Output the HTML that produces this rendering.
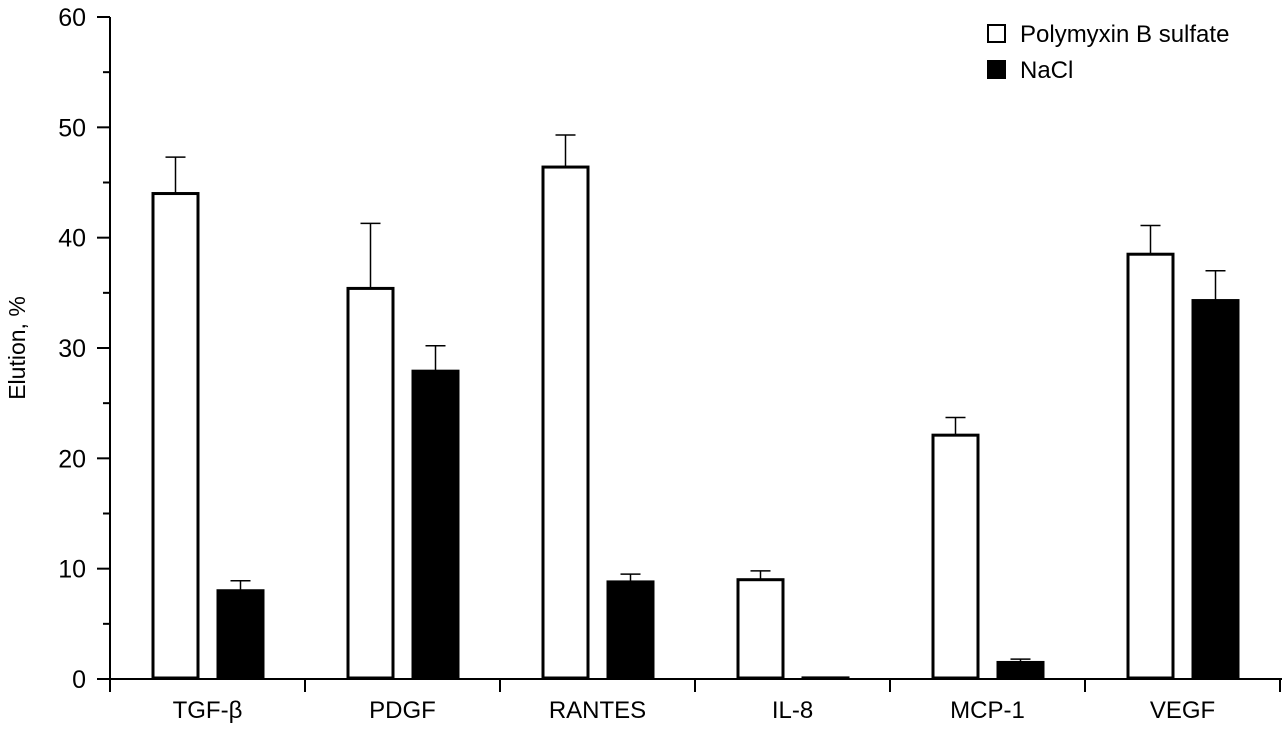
<!DOCTYPE html>
<html><head><meta charset="utf-8"><style>
body{margin:0;background:#fff;}
svg text{font-family:"Liberation Sans",sans-serif;fill:#000;}
</style></head><body>
<svg id="chart" width="1286" height="734" xmlns="http://www.w3.org/2000/svg"></svg>
<script>
const categories=["TGF-β","PDGF","RANTES","IL-8","MCP-1","VEGF"];
const polymyxin=[44,35.4,46.4,9,22.1,38.5];
const polymyxinErr=[3.3,5.9,2.9,0.8,1.6,2.6];
const nacl=[8,27.9,8.8,0.1,1.5,34.3];
const naclErr=[0.9,2.3,0.7,0,0.3,2.7];
const yTicks=[0,10,20,30,40,50,60];
const NS="http://www.w3.org/2000/svg";
const svg=document.getElementById('chart');
const x0=110,gw=195,y0=679,yTop=17;
const y=v=>y0-(v/60)*(y0-yTop);
function mk(t,a,p){const e=document.createElementNS(NS,t);for(const k in a)e.setAttribute(k,a[k]);(p||svg).appendChild(e);return e;}
const axes=mk('g',{});


mk('line',{x1:x0,y1:yTop,x2:x0,y2:y0,stroke:'#000','stroke-width':2},axes);
mk('line',{x1:97,y1:y0,x2:x0+gw*6+2,y2:y0,stroke:'#000','stroke-width':2},axes);
yTicks.forEach(v=>{
 mk('line',{x1:97,y1:y(v),x2:x0,y2:y(v),stroke:'#000','stroke-width':2},axes);
 if(v<60)mk('line',{x1:103,y1:y(v+5),x2:x0,y2:y(v+5),stroke:'#000','stroke-width':2},axes);
 const t=mk('text',{x:86,y:y(v)+9,'text-anchor':'end','font-size':25},axes);t.textContent=v;
 
 
});
for(let i=0;i<=6;i++)mk('line',{x1:x0+gw*i,y1:y0,x2:x0+gw*i,y2:692,stroke:'#000','stroke-width':2},axes);
const yt=mk('text',{transform:'translate(25,348) rotate(-90)','text-anchor':'middle','font-size':23});
yt.textContent='Elution, %';


function bar(xl,v,err,fill,name){
 const g=mk('g',{});
 
 
 const cx=xl+22.5;
 if(err>0){
  mk('line',{x1:cx,y1:y(v-err),x2:cx,y2:y(v+err),stroke:'#000','stroke-width':1.5},g);
  mk('line',{x1:cx-10,y1:y(v+err),x2:cx+10,y2:y(v+err),stroke:'#000','stroke-width':1.5},g);
  mk('line',{x1:cx-10,y1:y(v-err),x2:cx+10,y2:y(v-err),stroke:'#000','stroke-width':1.5},g);
 }
 mk('rect',{x:xl,y:y(v),width:45,height:Math.max(y0-1-y(v),0.5),fill:fill,stroke:'#000','stroke-width':3},g);
}
categories.forEach((c,i)=>{
 const gx=x0+gw*i;
 bar(gx+43,polymyxin[i],polymyxinErr[i],'#fff','bar-polymyxin-'+i);
 bar(gx+108,nacl[i],naclErr[i],'#000','bar-nacl-'+i);
 const t=mk('text',{x:gx+gw/2,y:718,'text-anchor':'middle','font-size':24});t.textContent=c;
 
 
});
const lg=mk('g',{});


mk('rect',{x:988,y:25,width:17,height:17,fill:'#fff',stroke:'#000','stroke-width':2},lg);
const l1=mk('text',{x:1020,y:42,'font-size':24},lg);l1.textContent='Polymyxin B sulfate';
mk('rect',{x:988,y:61,width:17,height:17,fill:'#000',stroke:'#000','stroke-width':2},lg);
const l2=mk('text',{x:1020,y:78,'font-size':24},lg);l2.textContent='NaCl';
</script>
</body></html>
